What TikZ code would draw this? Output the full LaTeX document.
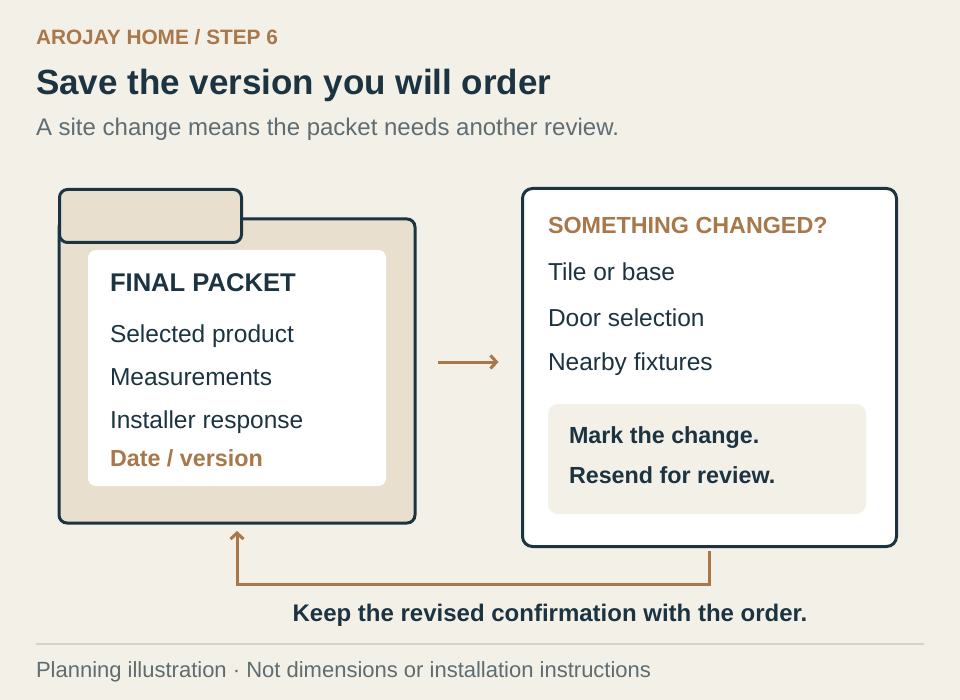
\documentclass[tikz,border=0pt]{standalone}
\usepackage{fontspec}
\setmainfont{Liberation Sans}
\usetikzlibrary{arrows.meta,positioning}
\definecolor{paper}{HTML}{F3F0E8}
\definecolor{ink}{HTML}{1C3441}
\definecolor{rust}{HTML}{A8774A}
\definecolor{sand}{HTML}{E8DFCF}
\definecolor{slate}{HTML}{5D6D72}
\definecolor{rulegrey}{HTML}{D6D2C9}

\begin{document}
\begin{tikzpicture}[x=1pt,y=-1pt,
    every node/.style={inner sep=0pt, outer sep=0pt},
    item/.style={anchor=base west, text=ink, font=\fontsize{24.5}{28}\selectfont},
    strong/.style={anchor=base west, text=ink, font=\fontsize{23.3}{27}\selectfont\bfseries},
    flow/.style={draw=rust, line width=3pt, -{Straight Barb[length=6pt,width=13pt,line width=3pt]}}]

        % page
        \fill[paper] (0,0) rectangle (960,700);
        \useasboundingbox (0,0) rectangle (960,700);

        % heading
        \node[anchor=base west, text=rust, font=\fontsize{20.8}{24}\selectfont\bfseries] (step) at (36,45) {AROJAY HOME / STEP 6};
        \node[anchor=base west, text=ink, font=\fontsize{35}{40}\selectfont\bfseries] (title) at (36,95) {Save the version you will order};
        \node[anchor=base west, text=slate, font=\fontsize{24}{28}\selectfont] (sub) at (36,136) {A site change means the packet needs another review.};

        % folder
        \node[draw=ink, line width=3pt, fill=sand, rounded corners=8pt, minimum width=356pt, minimum height=304pt] (body) at (237,371) {};
        \node[draw=ink, line width=3pt, fill=sand, rounded corners=8pt, minimum width=182pt, minimum height=53pt] (tab) at (150.5,216) {};
        \node[fill=white, rounded corners=8pt, minimum width=298pt, minimum height=236pt] (packet) at (237,368) {};
        \node[anchor=base west, text=ink, font=\fontsize{25.6}{30}\selectfont\bfseries] (final) at (110,292) {FINAL PACKET};
        \node[item] (product) at (110,342) {Selected product};
        \node[item] (measure) at (110,385) {Measurements};
        \node[item] (installer) at (110,428) {Installer response};
        \node[strong, text=rust] (version) at (110,466) {Date / version};

        % change card
        \node[draw=ink, line width=3pt, fill=white, rounded corners=10pt, minimum width=374pt, minimum height=358pt] (card) at (709.5,367.5) {};
        \node[strong, text=rust] (changed) at (548,234) {SOMETHING CHANGED?};
        \node[item] (tile) at (548,281) {Tile or base};
        \node[item] (door) at (548,326) {Door selection};
        \node[item] (fixtures) at (548,370) {Nearby fixtures};
        \node[fill=paper, rounded corners=10pt, minimum width=318pt, minimum height=110pt] (todo) at (707,459) {};
        \node[strong] (mark) at (569,443) {Mark the change.};
        \node[strong] (resend) at (569,483) {Resend for review.};

        % arrows
        \draw[flow, shorten <=23pt, shorten >=24pt] (body.east |- 0,362) -- (card.west |- 0,362);
        \draw[flow, shorten <=4pt, shorten >=8pt] (card.south) -- (card.south |- 0,584) -| (body.south);
        \node[anchor=base, text=ink, font=\fontsize{24}{28}\selectfont\bfseries] (keep) at (550,621) {Keep the revised confirmation with the order.};

        % footer
        \draw[rulegrey, line width=1.5pt] (36,644) -- (924,644);
        \node[anchor=base west, text=slate, font=\fontsize{22}{26}\selectfont] (foot) at (36,677) {Planning illustration · Not dimensions or installation instructions};
    \end{tikzpicture}
\end{document}
